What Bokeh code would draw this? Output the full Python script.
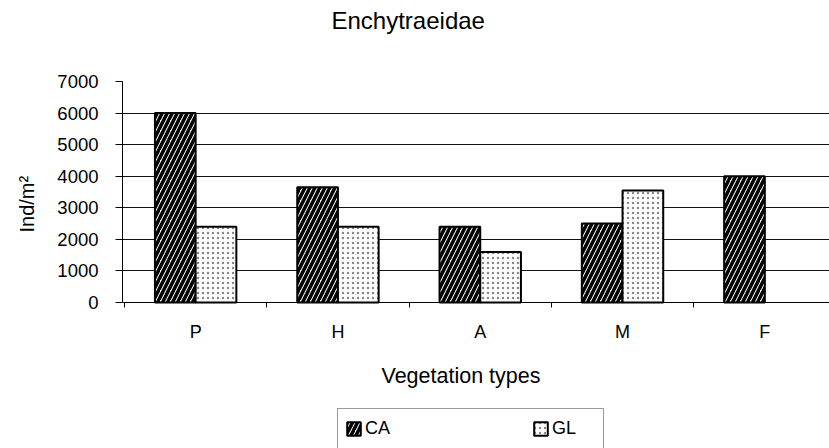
import math
from bokeh.plotting import figure
from bokeh.models import (Range1d, FixedTicker, Legend, LegendItem, ColumnDataSource, Title, Label)
from bokeh.transform import dodge
from bokeh.embed import file_html
from bokeh.resources import INLINE

# ---- data ----
categories = ["P", "H", "A", "M", "F"]
ca_values = [6000, 3650, 2400, 2500, 4000]
gl_values = [2400, 2400, 1600, 3550, float("nan")]   # no GL bar for F
y_ticks = [0, 1000, 2000, 3000, 4000, 5000, 6000, 7000]
title_text = "Enchytraeidae"
x_title = "Vegetation types"
y_title = "Ind/m\u00b2"

FONT = "Liberation Sans"

# ---- layout geometry (pixels) ----
W, H = 829, 448
PLOT_TOP, PLOT_BOTTOM, PLOT_LEFT = 81, 302, 121
y_max = y_ticks[-1]
# the frame runs down to the bottom edge; value 0 sits at PLOT_BOTTOM
y_min = -y_max * (H - PLOT_BOTTOM) / (PLOT_BOTTOM - PLOT_TOP)

idx = list(range(len(categories)))
centers = [i + 0.5 for i in idx]
src = ColumnDataSource(dict(x=centers, ca=ca_values, gl=gl_values))

p = figure(width=W, height=H, output_backend="svg", toolbar_location=None,
           x_range=Range1d(-0.014, -0.014 + (W - PLOT_LEFT) / 142.5),
           y_range=Range1d(y_min, y_max),
           min_border_left=PLOT_LEFT, min_border_right=0, min_border_top=PLOT_TOP,
           min_border_bottom=0)
p.outline_line_color = None
p.background_fill_color = "white"
p.border_fill_color = "white"

r_ca = p.vbar(x=dodge("x", -0.143, range=p.x_range), top="ca", width=0.286, source=src,
              fill_color="white", line_color="black", line_width=2,
              hatch_pattern="/", hatch_scale=10, hatch_weight=3.5, hatch_color="black")
r_gl = p.vbar(x=dodge("x", 0.143, range=p.x_range), top="gl", width=0.286, source=src,
              fill_color="white", line_color="black", line_width=2,
              hatch_pattern=".", hatch_scale=5, hatch_weight=0.8, hatch_color="#888888")

# x axis drawn at value 0
p.xaxis.fixed_location = 0
p.xaxis.ticker = FixedTicker(ticks=centers, minor_ticks=[0, 1, 2, 3, 4, 5])
p.xaxis.major_label_overrides = {c: lab for c, lab in zip(centers, categories)}
p.xaxis.major_tick_out = 0
p.xaxis.major_tick_in = 0
p.xaxis.minor_tick_out = 5
p.xaxis.minor_tick_in = 0
p.xaxis.minor_tick_line_color = "black"
p.xaxis.axis_line_color = "black"
p.xaxis.major_label_standoff = 14
p.xaxis.major_label_text_font = FONT
p.xaxis.major_label_text_font_size = "18px"
p.xaxis.major_label_text_color = "black"

p.yaxis.bounds = (0, y_max)
p.yaxis.ticker = FixedTicker(ticks=y_ticks)
p.yaxis.minor_tick_line_color = None
p.yaxis.major_tick_out = 7
p.yaxis.major_tick_in = 0
p.yaxis.major_tick_line_color = "black"
p.yaxis.axis_line_color = "black"
p.yaxis.major_label_standoff = 17
p.yaxis.major_label_text_font = FONT
p.yaxis.major_label_text_font_size = "18.5px"
p.yaxis.major_label_text_color = "black"

p.xgrid.grid_line_color = None
p.ygrid.ticker = FixedTicker(ticks=y_ticks[1:])
p.ygrid.grid_line_color = "#111111"
p.ygrid.grid_line_width = 1

# chart title (spacer keeps it up near the top edge)
p.add_layout(Title(text=" ", text_font_size="1px", standoff=45), "above")
p.add_layout(Title(text=title_text, align="left", offset=209, vertical_align="bottom",
                   standoff=0, text_font=FONT, text_font_size="24px",
                   text_font_style="normal", text_color="black"), "above")

# y axis title
p.add_layout(Title(text=y_title, align="left", offset=H - 232, vertical_align="top",
                   standoff=30, text_font=FONT, text_font_size="20px",
                   text_font_style="normal", text_color="black"), "left")

# x axis title (screen units relative to frame bottom-left)
p.add_layout(Label(x=259, y=H - 375, x_units="screen", y_units="screen", text=x_title,
                   text_font=FONT, text_font_size="21.5px", text_align="left",
                   text_baseline="alphabetic", text_color="black"))

legend = Legend(items=[LegendItem(label="CA", renderers=[r_ca]),
                       LegendItem(label="GL", renderers=[r_gl])],
                orientation="horizontal", location=(215, -1),
                padding=7, spacing=123, margin=0,
                glyph_width=17, glyph_height=17, label_standoff=3,
                label_height=25, label_width=44,
                label_text_font=FONT, label_text_font_size="18px",
                label_text_color="black",
                border_line_color="#333333", border_line_width=1,
                background_fill_color="white")
p.add_layout(legend, "center")

open("out.html", "w").write(file_html(p, INLINE))
